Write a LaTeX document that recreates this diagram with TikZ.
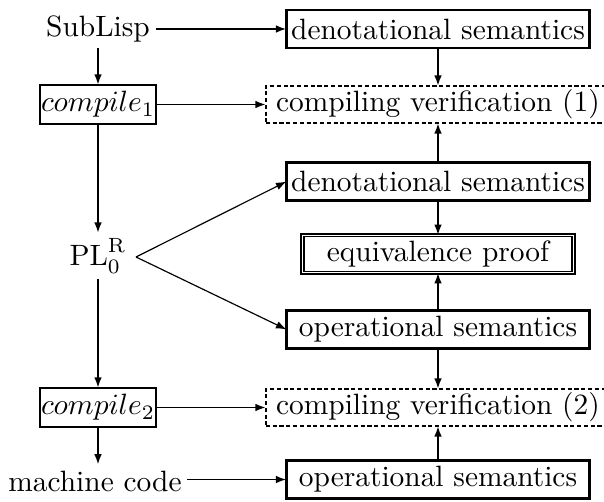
\documentclass[tikz,border=0pt]{standalone}
\usetikzlibrary{arrows.meta}
\begin{document}
\begin{tikzpicture}[x=0.34pt,y=-0.34pt,
  every node/.style={font=\fontsize{10}{12}\selectfont, outer sep=0pt},
  txt/.style={inner sep=2pt},
  widebox/.style={draw, line width=0.85pt, minimum width=103pt, minimum height=12.9pt, inner sep=0pt},
  dashbox/.style={draw, line width=0.6pt, dash pattern=on 1.4pt off 0.9pt, minimum width=117pt, minimum height=12.6pt, inner sep=0pt},
  eqbox/.style={draw, double, double distance=0.45pt, line width=0.55pt, minimum width=92pt, minimum height=12.8pt, inner sep=0pt},
  compbox/.style={draw, line width=0.85pt, minimum width=39.4pt, minimum height=13.3pt, inner sep=0pt},
  arr/.style={line width=0.65pt, -{Latex[length=3.6pt,width=2.6pt]}},
  thin arr/.style={line width=0.4pt, -{Latex[length=3.6pt,width=2.6pt]}}]
\useasboundingbox (0,0) rectangle (604,502);
% right column
\node[widebox] (den1) at (438,29) {denotational semantics};
\node[dashbox] (cv1) at (438,104.5) {compiling verification (1)};
\node[widebox] (den2) at (438,181.5) {denotational semantics};
\node[eqbox] (eq) at (438,254) {equivalence proof};
\node[widebox] (op1) at (438,329.5) {operational semantics};
\node[dashbox] (cv2) at (438,407.5) {compiling verification (2)};
\node[widebox] (op2) at (438,479.5) {operational semantics};
% left column
\node[txt] (sub) at (98,29) {SubLisp};
\node[compbox] (c1) at (98,104.5) {$compile_1$};
\node[txt] (pl) at (98,256) {$\mathrm{PL}_0^{\mathrm{R}}$};
\coordinate (plo) at (136,257);
\node[compbox] (c2) at (98,407.5) {$compile_2$};
\node[txt] (mc) at (95,481) {machine code};
% horizontal arrows
\draw[arr] (den1.west -| sub.east) -- (den1.west);
\draw[arr] (c1.east) -- (cv1.west);
\draw[arr] (c2.east) -- (cv2.west);
\draw[arr] (op2.west -| mc.east) -- (op2.west);
% left verticals
\draw[arr] (sub.south) -- (c1.north);
\draw[arr] (c1.south) -- (pl.north);
\draw[arr] (pl.south) -- (c2.north);
\draw[arr] (c2.south) -- (c2.south |- mc.north);
% diagonals
\draw[thin arr] (plo) -- (den2.west);
\draw[thin arr] (plo) -- (op1.west);
% right verticals
\draw[arr] (den1.south) -- (cv1.north);
\draw[arr] (den2.north) -- (cv1.south);
\draw[arr] (den2.south) -- (eq.north);
\draw[arr] (op1.north) -- (eq.south);
\draw[arr] (op1.south) -- (cv2.north);
\draw[arr] (op2.north) -- (cv2.south);
\end{tikzpicture}
\end{document}
